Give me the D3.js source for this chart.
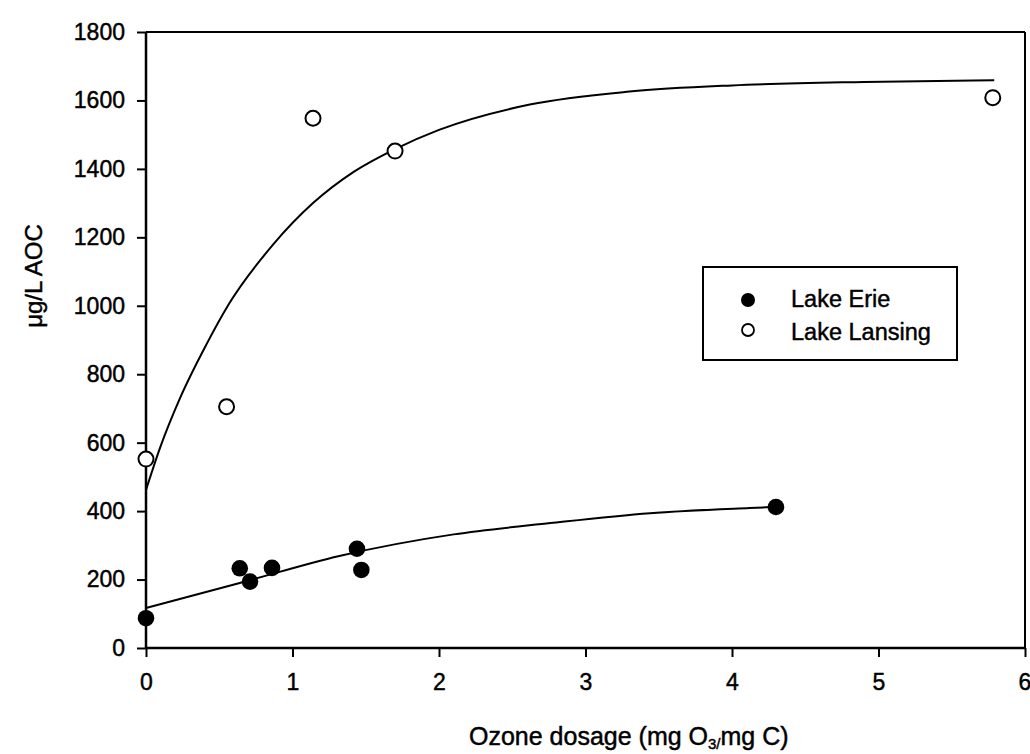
<!DOCTYPE html>
<html>
<head>
<meta charset="utf-8">
<script src="https://cdn.jsdelivr.net/npm/d3@7"></script>
<style>
  html, body { margin: 0; padding: 0; background: #fff; }
  svg text { font-family: "Liberation Sans", Arial, sans-serif; fill: #000; stroke: #000; stroke-width: 0.45px; }
</style>
</head>
<body>
<svg id="chart" width="1030" height="754"></svg>
<script>
// ---- data ----
const erieX = [0, 0.64, 0.71, 0.86, 1.44, 1.47, 4.30];
const erieY = [87, 233, 194, 234, 290, 228, 412];
const lansingX = [0, 0.55, 1.14, 1.70, 5.78];
const lansingY = [552, 705, 1548, 1452, 1608];
// fitted curves
const erieFitX = [0, 0.64, 1.32, 2.1, 2.76, 3.44, 4.12, 4.29];
const erieFitY = [117, 190, 269, 332, 365, 394, 409, 412];
const lansingFitX = [0, 0.1, 0.23, 0.41, 0.57, 0.87, 1.14, 1.42, 1.70, 2.0, 2.62, 3.3, 4.0, 4.9, 5.79];
const lansingFitY = [462, 590, 728, 885, 1008, 1180, 1300, 1392, 1458, 1514, 1588, 1626, 1644, 1654, 1659];
const xTicks = [0, 1, 2, 3, 4, 5, 6];
const yTicks = [0, 200, 400, 600, 800, 1000, 1200, 1400, 1600, 1800];
const legendLabels = ["Lake Erie", "Lake Lansing"];

// ---- layout ----
const svg = d3.select("#chart");
const L = 146, R = 1025, T = 32, B = 648;
const x = d3.scaleLinear().domain([0, 6]).range([L, R]);
const y = d3.scaleLinear().domain([0, 1800]).range([B, T]);

// frame (top and right)
svg.append("line").attr("x1", L).attr("x2", R).attr("y1", T).attr("y2", T)
  .attr("stroke", "#000").attr("stroke-width", 2);
svg.append("line").attr("x1", R).attr("x2", R).attr("y1", T).attr("y2", B)
  .attr("stroke", "#000").attr("stroke-width", 2);

// axes
const xAxis = svg.append("g").attr("transform", `translate(0,${B})`)
  .call(d3.axisBottom(x).tickValues(xTicks).tickFormat(d3.format("d")).tickSize(9).tickPadding(17));
const yAxis = svg.append("g").attr("transform", `translate(${L},0)`)
  .call(d3.axisLeft(y).tickValues(yTicks).tickFormat(d3.format("d")).tickSize(9).tickPadding(12));
[xAxis, yAxis].forEach(g => {
  g.select(".domain").attr("stroke", "#000").attr("stroke-width", 2.5);
  g.selectAll(".tick line").attr("stroke", "#000").attr("stroke-width", 2);
  g.selectAll(".tick text").attr("font-size", 23).attr("font-family", "Liberation Sans, Arial, sans-serif").attr("fill", "#000");
});
xAxis.select(".domain").attr("d", `M${L},0H${R}`);
yAxis.select(".domain").attr("d", `M0,${B}V${T}`);
xAxis.selectAll(".tick").filter(d => d === 6).select("text").attr("text-anchor", "start").attr("x", -7);

// axis titles
const xt = svg.append("text").attr("x", 469).attr("y", 745).attr("text-anchor", "start").attr("font-size", 25);
xt.append("tspan").text("Ozone dosage (mg O");
xt.append("tspan").attr("font-size", 15).attr("dy", 4).text("3/");
xt.append("tspan").attr("dy", -4).text("mg C)");

svg.append("text").attr("transform", "translate(42,276) rotate(-90)")
  .attr("text-anchor", "middle").attr("font-size", 24).text("μg/L AOC");

// fit curves
const line = d3.line().x(d => x(d[0])).y(d => y(d[1])).curve(d3.curveMonotoneX);
svg.append("path").datum(lansingFitX.map((v, i) => [v, lansingFitY[i]]))
  .attr("d", line).attr("fill", "none").attr("stroke", "#000").attr("stroke-width", 2);
svg.append("path").datum(erieFitX.map((v, i) => [v, erieFitY[i]]))
  .attr("d", line).attr("fill", "none").attr("stroke", "#000").attr("stroke-width", 2);

// points
svg.append("g").selectAll("circle").data(erieX.map((v, i) => [v, erieY[i]])).join("circle")
  .attr("cx", d => x(d[0])).attr("cy", d => y(d[1])).attr("r", 8.3).attr("fill", "#000");
svg.append("g").selectAll("circle").data(lansingX.map((v, i) => [v, lansingY[i]])).join("circle")
  .attr("cx", d => x(d[0])).attr("cy", d => y(d[1])).attr("r", 7.5)
  .attr("fill", "#fff").attr("stroke", "#000").attr("stroke-width", 2);

// legend
const lg = svg.append("g");
lg.append("rect").attr("x", 703).attr("y", 267).attr("width", 254).attr("height", 93)
  .attr("fill", "#fff").attr("stroke", "#000").attr("stroke-width", 2);
lg.append("circle").attr("cx", 748).attr("cy", 300).attr("r", 7).attr("fill", "#000");
lg.append("circle").attr("cx", 748).attr("cy", 330).attr("r", 6).attr("fill", "#fff")
  .attr("stroke", "#000").attr("stroke-width", 1.8);
lg.selectAll("text.lab").data(legendLabels).join("text").attr("class", "lab")
  .attr("x", 791).attr("y", (d, i) => 307 + i * 33).attr("font-size", 23.5).text(d => d);
</script>
</body>
</html>
